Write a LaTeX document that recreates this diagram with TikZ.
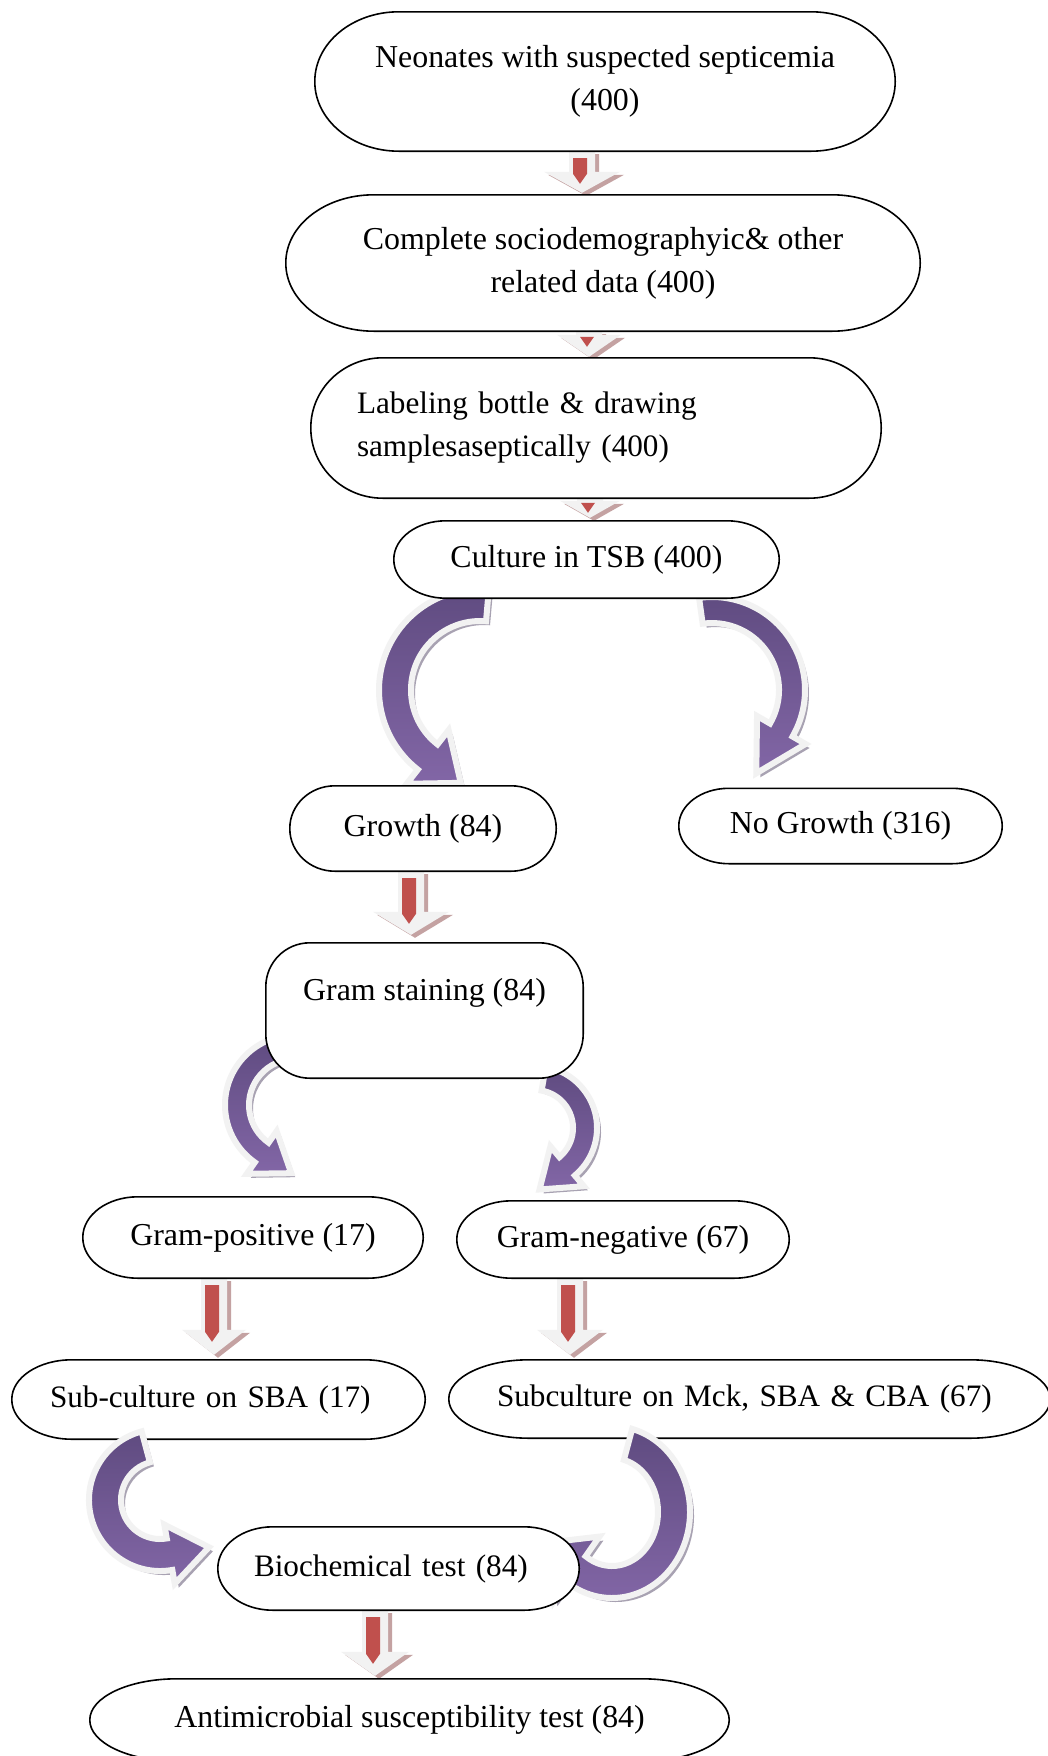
\documentclass[tikz,border=0pt]{standalone}
\usepackage{fontspec}
\setmainfont{Liberation Serif}
\usetikzlibrary{calc}
\definecolor{pdark}{HTML}{5F4B80}
\definecolor{plight}{HTML}{8266A6}
\definecolor{pwhite}{HTML}{F2F2F2}
\definecolor{pshadow}{HTML}{A8A2B2}
\definecolor{rwhite}{HTML}{F2F2F2}
\definecolor{rshadow}{HTML}{C4A2A2}
\definecolor{rred}{HTML}{C0504D}
\pgfdeclarelayer{bg}
\pgfdeclarelayer{boxes}
\pgfdeclarelayer{fg}
\pgfdeclarelayer{fgboxes}
\pgfsetlayers{bg,boxes,fg,fgboxes,main}
\tikzset{
  lbl/.style={inner sep=0pt, font=\fontsize{31.9pt}{43pt}\selectfont, align=center},
  lbls/.style={lbl, font=\fontsize{31.2pt}{43pt}\selectfont},
  boxline/.style={draw=black, line width=1.6pt, fill=white},
}
% box outline with elliptical corners, drawn from a node's corners
\newcommand\boxshape[3]{%
  \path[boxline] let \p1=(#1.north west), \p2=(#1.south east) in
  (\x1+#2pt,\y1) -- (\x2-#2pt,\y1)
  arc[start angle=90,end angle=0,x radius=#2pt,y radius=#3pt]
  -- (\x2,\y2+#3pt)
  arc[start angle=0,end angle=-90,x radius=#2pt,y radius=#3pt]
  -- (\x1+#2pt,\y2)
  arc[start angle=270,end angle=180,x radius=#2pt,y radius=#3pt]
  -- (\x1,\y1-#3pt)
  arc[start angle=180,end angle=90,x radius=#2pt,y radius=#3pt]
  -- cycle;}
% red 3D block arrow: from node, to node, x, head half width, head height, gap
\newcommand\redarrow[6]{%
  \begin{scope}[transform canvas={shift={(4pt,-3pt)}}]
  \path[fill=rshadow] let \p1=(#1.south), \p2=(#2.north) in
    (#3-13,\y1) -- (#3+13,\y1) -- (#3+13,\y2+#6pt+#5pt) -- (#3+#4,\y2+#6pt+#5pt)
    -- (#3,\y2+#6pt) -- (#3-#4,\y2+#6pt+#5pt) -- (#3-13,\y2+#6pt+#5pt) -- cycle;
  \end{scope}
  \path[fill=rwhite] let \p1=(#1.south), \p2=(#2.north) in
    (#3-13,\y1) -- (#3+13,\y1) -- (#3+13,\y2+#6pt+#5pt) -- (#3+#4,\y2+#6pt+#5pt)
    -- (#3,\y2+#6pt) -- (#3-#4,\y2+#6pt+#5pt) -- (#3-13,\y2+#6pt+#5pt) -- cycle;
  \path[fill=rred] let \p1=(#1.south), \p2=(#2.north),
    \n1={max(\y1-7pt,\y2+#6pt+#5pt-2pt)} in
    (#3-9,\n1) -- (#3+5,\n1) -- (#3+5,\y2+#6pt+#5pt-2pt) -- (#3-2,\y2+#6pt+#5pt-12pt)
    -- (#3-9,\y2+#6pt+#5pt-2pt) -- cycle;
}
% purple curved arrow: center, rx, ry, start angle, end angle, width, head half width, head length, tip angle
\newcommand\parrowpath[9]{%
  ($(#1)+(#4:{#2+#6/2} and {#3+#6/2})$)
  arc[start angle=#4,end angle=#5,x radius={#2+#6/2},y radius={#3+#6/2}]
  -- ($(#1)+(#5:{#2+#7} and {#3+#7})$)
  -- ($(#1)+(#5:#2 and #3)+(#9:#8)$)
  -- ($(#1)+(#5:{#2-#7} and {#3-#7})$)
  -- ($(#1)+(#5:{#2-#6/2} and {#3-#6/2})$)
  arc[start angle=#5,end angle=#4,x radius={#2-#6/2},y radius={#3-#6/2}]
  -- cycle}
\newcommand\parrow[9]{%
  \begin{scope}[transform canvas={shift={(4pt,-4pt)}}]
  \path[fill=pshadow] \parrowpath{#1}{#2}{#3}{#4}{#5}{#6}{#7}{#8}{#9};
  \end{scope}
  \path[draw=pwhite, line width=6pt, top color=pdark, bottom color=plight]
    \parrowpath{#1}{#2}{#3}{#4}{#5}{#6}{#7}{#8}{#9};
}
\begin{document}
\begin{tikzpicture}[x=1pt,y=1pt]
\useasboundingbox (0,0) rectangle (1048,-1756);
\begin{pgfonlayer}{bg}
\fill[white] (0,0) rectangle (1048,-1756);
\end{pgfonlayer}

% nodes (text)
\node[lbl, minimum width=580pt, minimum height=139pt] (n1) at (605,-81.5)
  {Neonates with suspected septicemia\\(400)};
\node[lbl, minimum width=634pt, minimum height=136pt] (n2) at (603,-263)
  {Complete sociodemographyic\& other\\related data (400)};
\node[lbls, minimum width=570pt, minimum height=140pt, text width=478pt, align=left] (n3) at (596,-428)
  {Labeling bottle \& drawing\\samplesaseptically (400)};
\node[lbl, minimum width=385pt, minimum height=77pt] (n4) at (586.5,-559.5)
  {Culture in TSB (400)};
\node[lbl, minimum width=266pt, minimum height=85pt] (n5) at (423,-828.5)
  {Growth (84)};
\node[lbl, minimum width=323pt, minimum height=75pt] (n6) at (840.5,-826)
  {No Growth (316)};
\node[lbl, minimum width=317pt, minimum height=135pt] (n7) at (424.5,-1010.5)
  {Gram staining (84)\\\mbox{}};
\node[lbl, minimum width=340pt, minimum height=81pt] (n8) at (253,-1237.5)
  {Gram-positive (17)};
\node[lbl, minimum width=332pt, minimum height=77pt] (n9) at (623,-1239.5)
  {Gram-negative (67)};
\node[lbls, minimum width=413pt, minimum height=79pt, text width=337pt, align=left] (n10) at (218.5,-1399.5)
  {\mbox{Sub-culture on SBA (17)}};
\node[lbls, minimum width=601pt, minimum height=78pt, text width=505pt, align=left] (n11) at (749.5,-1399)
  {\mbox{Subculture on Mck, SBA \& CBA (67)}};
\node[lbls, minimum width=361pt, minimum height=83pt, text width=289pt, align=left] (n12) at (398.5,-1568.5)
  {\mbox{Biochemical test (84)}};
\node[lbl, minimum width=639pt, minimum height=82pt] (n13) at (409.5,-1720)
  {Antimicrobial susceptibility test (84)};

% arrows behind the boxes
\begin{pgfonlayer}{bg}
\redarrow{n1}{n2}{582}{38}{21}{2}
\redarrow{n2}{n3}{589}{32}{22}{1}
\redarrow{n3}{n4}{590}{30}{17}{3}
\redarrow{n5}{n7}{411}{38}{23}{8}
\redarrow{n8}{n10}{214}{32}{25}{5}
\redarrow{n9}{n11}{570}{33}{25}{5}
\redarrow{n12}{n13}{375}{34}{24}{3}
\parrow{480,-690}{85}{85}{85}{232}{32}{34}{42}{322}
\parrow{712,-690}{80}{80}{98}{-30}{26}{28}{50}{-120}
\parrow{295,-1105}{58}{58}{95}{235}{24}{26}{36}{325}
\parrow{535,-1128}{50}{50}{80}{-50}{24}{26}{36}{-140}
\end{pgfonlayer}

% box outlines
\begin{pgfonlayer}{boxes}
\boxshape{n1}{84}{69.5}
\boxshape{n2}{88}{68}
\boxshape{n3}{72}{70}
\boxshape{n4}{52}{38.5}
\boxshape{n5}{45}{42.5}
\boxshape{n6}{50}{37.5}
\boxshape{n7}{44}{44}
\boxshape{n8}{55}{40.5}
\boxshape{n9}{55}{38.5}
\boxshape{n10}{60}{39.5}
\boxshape{n11}{80}{39}
\boxshape{n13}{87}{41}
\end{pgfonlayer}

% arrows over the sub-culture boxes
\begin{pgfonlayer}{fg}
\parrow{160,-1500}{55}{55}{105}{280}{32}{30}{40}{10}
\parrow{612,-1512}{62}{70}{75}{-125}{32}{40}{45}{145}
\end{pgfonlayer}

\begin{pgfonlayer}{fgboxes}
\boxshape{n12}{55}{41.5}
\end{pgfonlayer}
\end{tikzpicture}
\end{document}
